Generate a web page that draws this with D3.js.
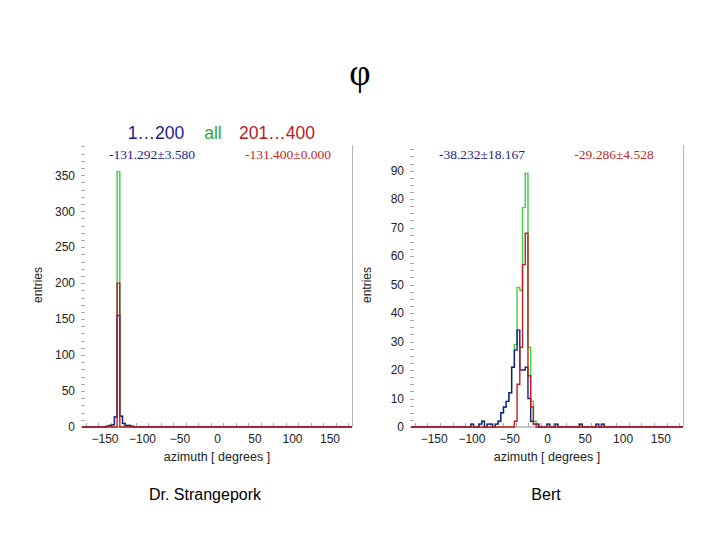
<!DOCTYPE html>
<html>
<head>
<meta charset="utf-8">
<script src="https://cdn.jsdelivr.net/npm/d3@7"></script>
<style>
  html, body { margin: 0; padding: 0; background: #fff; }
  svg text { font-family: "Liberation Sans", Arial, sans-serif; }
  .tick text { fill: #222; font-size: 12px; }
  .serif { font-family: "Liberation Serif", "Times New Roman", serif !important; }
</style>
</head>
<body>
<svg id="chart" width="720" height="540"></svg>
<script>
/* azimuth histograms: 100 bins of 3.6 deg from -180 to 180.
   each series is a list of [bin index, entries]; empty bins are left out */
const AZ_MIN = -180, AZ_MAX = 180, BIN_W = 3.6;

// Dr. Strangepork
const strangeBlue  = [[9,1],[10,2],[11,3],[12,14],[13,155],[14,15],[15,5],[16,2],[17,2],[18,1]];
const strangeRed   = [[13,200]];
const strangeGreen = [[9,1],[10,2],[11,3],[12,14],[13,355],[14,15],[15,5],[16,2],[17,2],[18,1]];

// Bert
const bertBlue  = [[22,1],[25,1],[26,2],[28,1],[29,1],[31,1],[32,2],[33,5],[34,7],[35,9],[36,12],
                   [37,21],[38,27],[39,34],[40,20],[41,20],[42,21],[43,10],[44,2],[45,1],[46,1],
                   [50,1],[53,1],[62,1],[68,1],[70,1]];
const bertRed   = [[38,2],[39,15],[40,28],[41,57],[42,68],[43,18],[44,7],[45,1]];
const bertGreen = [[22,1],[25,1],[26,2],[28,1],[29,1],[31,1],[32,2],[33,5],[34,7],[35,9],[36,12],
                   [37,21],[38,29],[39,49],[40,48],[41,77],[42,89],[43,28],[44,9],[45,2],[46,1],
                   [50,1],[53,1],[62,1],[68,1],[70,1]];

const headerLabels = ["1…200", "all", "201…400"];
const strangeStats = ["-131.292±3.580", "-131.400±0.000"];
const bertStats    = ["-38.232±18.167", "-29.286±4.528"];
const xTicks = [-150, -100, -50, 0, 50, 100, 150];

const COL = { blue: "#1c1c8e", green: "#3fd13f", red: "#c81c1c" };
const svg = d3.select("#chart");

// title
svg.append("text").attr("class", "serif")
  .attr("x", 360).attr("y", 85).attr("text-anchor", "middle")
  .attr("font-size", 37).attr("fill", "#000").text("φ");

// colour key above the left panel
[[156, COL.blue], [213, "#2fa82f"], [277, "#b42020"]].forEach(([x, c], i) => {
  svg.append("text").attr("x", x).attr("y", 139).attr("text-anchor", "middle")
    .attr("font-size", 17.5).attr("fill", c).text(headerLabels[i]);
});

function panel(opt) {
  const x = d3.scaleLinear([AZ_MIN, AZ_MAX], [opt.x0, opt.x1]);
  const y = d3.scaleLinear([0, opt.yMax], [427, 145]);
  const g = svg.append("g");

  // frame: right edge only
  g.append("line").attr("x1", opt.x1 + 0.5).attr("x2", opt.x1 + 0.5)
    .attr("y1", 145).attr("y2", 427).attr("stroke", "#b4b4b4");
  g.append("line").attr("x1", opt.x0).attr("x2", opt.x1)
    .attr("y1", 427).attr("y2", 427).attr("stroke", "#888");

  // y axis: labels + short ticks, no spine
  const ya = g.append("g").attr("transform", `translate(${opt.x0},0)`)
    .call(d3.axisLeft(y).tickValues(d3.range(0, opt.yMax, opt.yMajor)).tickSize(0).tickPadding(7));
  ya.select(".domain").remove();
  g.append("g").selectAll("line")
    .data(d3.range(0, opt.yMax, opt.yMinor)).join("line")
    .attr("x1", opt.x0 - 1).attr("x2", opt.x0 + 3)
    .attr("y1", d => Math.round(y(d)) + 0.5).attr("y2", d => Math.round(y(d)) + 0.5)
    .attr("stroke", "#aaa");

  // x axis
  const xa = g.append("g").attr("transform", "translate(0,427)")
    .call(d3.axisBottom(x).tickValues(xTicks).tickSize(0).tickPadding(7));
  xa.select(".domain").remove();
  g.append("g").selectAll("line")
    .data(d3.range(-175, 180, 50 / 3).filter(v => v > AZ_MIN && v < AZ_MAX)).join("line")
    .attr("x1", d => Math.round(x(d)) + 0.5).attr("x2", d => Math.round(x(d)) + 0.5)
    .attr("y1", 423).attr("y2", 427).attr("stroke", "#aaa");

  // axis titles
  svg.append("text").attr("transform", `translate(${opt.x0 - 40},285) rotate(-90)`)
    .attr("text-anchor", "middle").attr("font-size", 12).attr("fill", "#222").text("entries");
  svg.append("text").attr("x", x(0)).attr("y", 461).attr("text-anchor", "middle")
    .attr("font-size", 12.5).attr("fill", "#222").text("azimuth [ degrees ]");

  // step histograms: green (all) under blue under red
  const nBins = Math.round((AZ_MAX - AZ_MIN) / BIN_W);
  const line = d3.line().x(d => x(d[0])).y(d => y(d[1])).curve(d3.curveStepAfter);
  function steps(series) {
    const counts = new Array(nBins).fill(0);
    series.forEach(([k, n]) => counts[k] = n);
    const pts = counts.map((n, k) => [AZ_MIN + k * BIN_W, n]);
    pts.push([AZ_MAX, counts[nBins - 1]]);
    return pts;
  }
  [[opt.green, COL.green], [opt.blue, COL.blue], [opt.red, COL.red]].forEach(([s, c]) => {
    g.append("path").attr("d", line(steps(s)))
      .attr("fill", "none").attr("stroke", c).attr("stroke-width", 1.4);
  });

  // mean ± rms
  svg.append("text").attr("class", "serif").attr("x", opt.statX[0]).attr("y", 159)
    .attr("text-anchor", "middle").attr("font-size", 13.5).attr("fill", COL.blue).text(opt.stats[0]);
  svg.append("text").attr("class", "serif").attr("x", opt.statX[1]).attr("y", 159)
    .attr("text-anchor", "middle").attr("font-size", 13.5).attr("fill", "#c42a2a").text(opt.stats[1]);

  svg.append("text").attr("x", opt.nameX).attr("y", 500).attr("text-anchor", "middle")
    .attr("font-size", 16).attr("fill", "#000").text(opt.name);
}

panel({ x0: 82, x1: 352, yMax: 392, yMajor: 50, yMinor: 10,
        blue: strangeBlue, red: strangeRed, green: strangeGreen,
        stats: strangeStats, statX: [152, 288], name: "Dr. Strangepork", nameX: 205 });
panel({ x0: 411, x1: 683, yMax: 99, yMajor: 10, yMinor: 2.5,
        blue: bertBlue, red: bertRed, green: bertGreen,
        stats: bertStats, statX: [482, 614], name: "Bert", nameX: 546 });
</script>
</body>
</html>
